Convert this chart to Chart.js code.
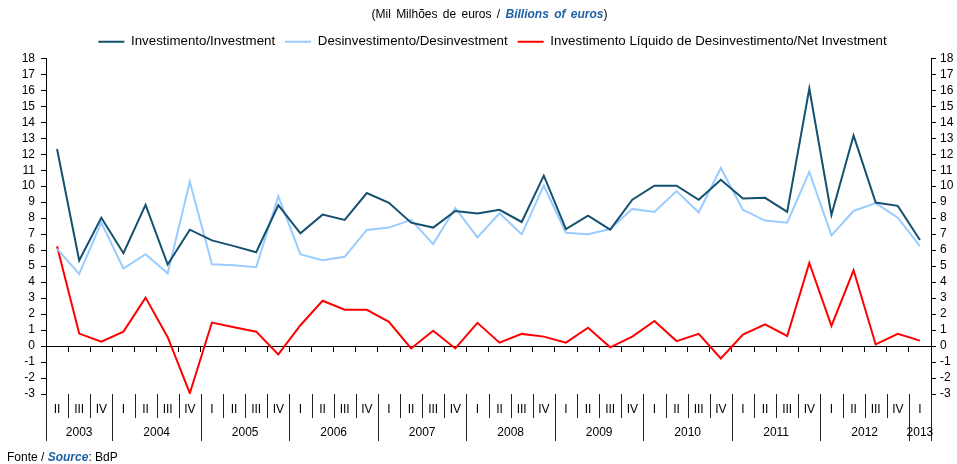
<!DOCTYPE html>
<html>
<head>
  <title>Investimento / Desinvestimento</title>
  <script src="https://cdn.jsdelivr.net/npm/chart.js"></script>
  <style>
    body { margin: 0; background: #fff; font-family: "Liberation Sans", Arial, sans-serif; }
    #wrap { position: relative; width: 957px; height: 464px; }
    #title { position: absolute; top: 7px; left: 11px; width: 957px; text-align: center; font-size: 12px; word-spacing: 2px; color: #000; }
    #fonte { position: absolute; left: 7px; top: 450px; font-size: 12px; color: #000; }
    .en { color: #1f5fa6; font-weight: bold; font-style: italic; }
  </style>
</head>
<body>
  <div id="wrap">
    <canvas id="chart" width="957" height="464"></canvas>
    <div id="title">(Mil Milhões de euros / <span class="en">Billions of euros</span>)</div>
    <div id="fonte">Fonte / <span class="en">Source</span>: BdP</div>
  </div>

  <script>
    var quarters = ['II', 'III', 'IV',
      'I', 'II', 'III', 'IV', 'I', 'II', 'III', 'IV', 'I', 'II', 'III', 'IV',
      'I', 'II', 'III', 'IV', 'I', 'II', 'III', 'IV', 'I', 'II', 'III', 'IV',
      'I', 'II', 'III', 'IV', 'I', 'II', 'III', 'IV', 'I', 'II', 'III', 'IV',
      'I'];
    var years = ['2003', '2003', '2003',
      '2004', '2004', '2004', '2004', '2005', '2005', '2005', '2005', '2006', '2006', '2006', '2006',
      '2007', '2007', '2007', '2007', '2008', '2008', '2008', '2008', '2009', '2009', '2009', '2009',
      '2010', '2010', '2010', '2010', '2011', '2011', '2011', '2011', '2012', '2012', '2012', '2012',
      '2013'];

    var investimento = [12.33, 5.35, 8.03, 5.81, 8.83, 5.10, 7.28, 6.61, 6.25, 5.87,
      8.81, 7.05, 8.22, 7.89, 9.57, 8.96, 7.72, 7.41, 8.45, 8.29,
      8.52, 7.76, 10.66, 7.32, 8.16, 7.28, 9.15, 10.03, 10.03, 9.15,
      10.40, 9.23, 9.27, 8.39, 16.11, 8.20, 13.17, 8.98, 8.77, 6.63];
    var desinvestimento = [6.08, 4.51, 7.72, 4.85, 5.75, 4.55, 10.28, 5.12, 5.06, 4.93,
      9.36, 5.73, 5.37, 5.58, 7.26, 7.41, 7.89, 6.38, 8.64, 6.80,
      8.31, 6.99, 10.03, 7.09, 6.99, 7.32, 8.58, 8.39, 9.69, 8.35,
      11.14, 8.52, 7.85, 7.72, 10.89, 6.92, 8.45, 8.94, 8.03, 6.25];
    var liquido = [6.25, 0.78, 0.27, 0.90, 3.03, 0.55, -2.95, 1.47, 1.18, 0.90,
      -0.52, 1.30, 2.83, 2.27, 2.27, 1.51, -0.15, 0.96, -0.15, 1.45,
      0.21, 0.76, 0.59, 0.21, 1.15, -0.08, 0.59, 1.57, 0.31, 0.76,
      -0.78, 0.71, 1.36, 0.63, 5.20, 1.26, 4.74, 0.10, 0.76, 0.34];

    var yMin = -3, yMax = 18;
    var font = '"Liberation Sans", Arial, sans-serif';

    // quarter / year labels under the plot
    var quarterAxis = {
      id: 'quarterAxis',
      afterLayout: function(chart) {
        // legend sits a bit right of centre in the original
        chart.legend.left += 14;
        chart.legend.right += 14;
      },
      afterDraw: function(chart) {
        var ctx = chart.ctx;
        var x = chart.scales.x;
        var top = chart.chartArea.bottom;
        var half = (x.getPixelForValue(1) - x.getPixelForValue(0)) / 2;
        ctx.save();
        ctx.strokeStyle = '#222';
        ctx.lineWidth = 1;
        ctx.fillStyle = '#000';
        ctx.textAlign = 'center';
        ctx.textBaseline = 'middle';
        ctx.font = '12px ' + font;

        var left = Math.round(x.getPixelForValue(0) - half) + 0.5;
        ctx.beginPath();
        ctx.moveTo(left, top);
        ctx.lineTo(left, top + 47);
        ctx.stroke();

        var start = 0;
        for (var i = 0; i < quarters.length; i++) {
          var px = x.getPixelForValue(i);
          ctx.fillText(quarters[i], px, top + 16);
          var edge = Math.round(px + half) + 0.5;
          var newYear = i == quarters.length - 1 || years[i + 1] != years[i];
          ctx.beginPath();
          ctx.moveTo(edge, top);
          ctx.lineTo(edge, top + (newYear ? 47 : 24));
          ctx.stroke();
          if (newYear) {
            var mid = (x.getPixelForValue(start) + px) / 2;
            ctx.fillText(years[i], mid, top + 39);
            start = i + 1;
          }
        }
        ctx.restore();
      }
    };

    var ctx = document.getElementById('chart').getContext('2d');
    var chart = new Chart(ctx, {
      type: 'line',
      data: {
        labels: quarters,
        datasets: [
          {
            label: 'Investimento/Investment',
            borderColor: '#15506f',
            backgroundColor: '#15506f',
            borderWidth: 2,
            pointRadius: 0,
            fill: false,
            data: investimento
          },
          {
            label: 'Desinvestimento/Desinvestment',
            borderColor: '#99ccff',
            backgroundColor: '#99ccff',
            borderWidth: 2,
            pointRadius: 0,
            fill: false,
            data: desinvestimento
          },
          {
            label: 'Investimento Líquido de Desinvestimento/Net Investment',
            borderColor: '#ff0000',
            backgroundColor: '#ff0000',
            borderWidth: 2,
            pointRadius: 0,
            fill: false,
            data: liquido
          }
        ]
      },
      plugins: [quarterAxis],
      options: {
        responsive: false,
        animation: false,
        layout: { padding: { top: 25, bottom: 70, left: 0, right: 0 } },
        plugins: {
          legend: {
            position: 'top',
            labels: {
              boxWidth: 26,
              boxHeight: 0,
              padding: 10,
              color: '#000',
              font: { family: font, size: 13.3 }
            }
          },
          tooltip: { enabled: false }
        },
        scales: {
          x: {
            type: 'category',
            offset: true,
            position: { y: 0 },
            grid: { drawOnChartArea: false, drawTicks: true, tickLength: 5, color: '#000', offset: true },
            border: { color: '#000' },
            ticks: { display: false }
          },
          y: {
            position: 'left',
            min: yMin,
            max: yMax,
            afterFit: function(s) { s.width = 46; },
            grid: { drawOnChartArea: false, tickLength: 5, color: '#000' },
            border: { color: '#000' },
            ticks: { stepSize: 1, autoSkip: false, padding: 6, color: '#000', font: { family: font, size: 12 } }
          },
          y2: {
            position: 'right',
            min: yMin,
            max: yMax,
            afterFit: function(s) { s.width = 26; },
            grid: { drawOnChartArea: false, tickLength: 5, color: '#000' },
            border: { color: '#000' },
            ticks: { stepSize: 1, autoSkip: false, padding: 4, color: '#000', font: { family: font, size: 12 } }
          }
        }
      }
    });
  </script>
</body>
</html>
